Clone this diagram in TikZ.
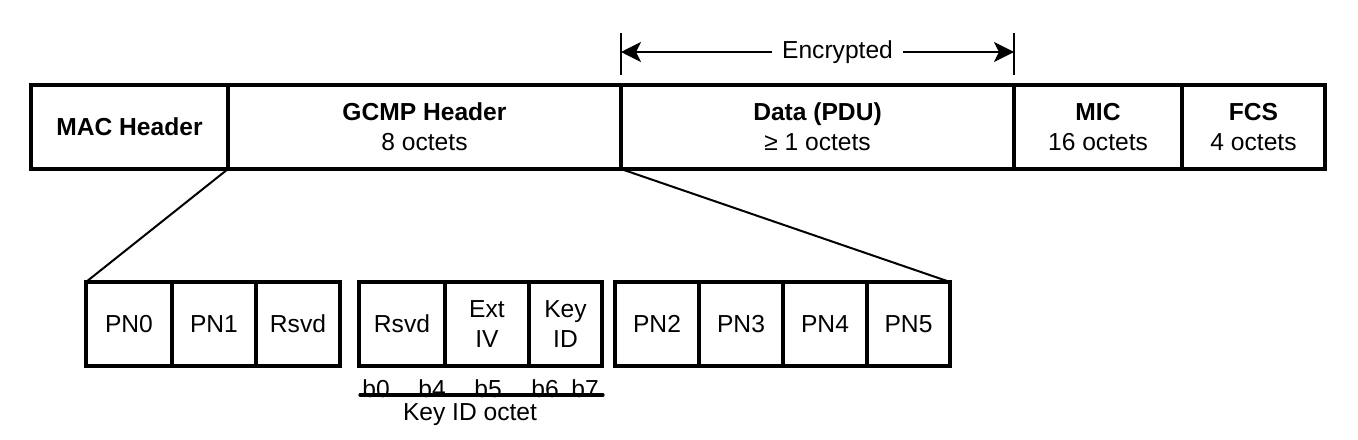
\documentclass[tikz,border=0pt]{standalone}
\usepackage{fontspec}
\setmainfont{Liberation Sans}
\usetikzlibrary{arrows.meta}
\tikzset{
  field/.style={draw, line width=1.6pt, minimum height=42pt, inner sep=0pt, outer sep=0pt, align=center},
  link/.style={line width=1pt},
  bit/.style={anchor=base, inner sep=0pt},
}

\begin{document}
\begin{tikzpicture}[x=0.5pt, y=-0.5pt, font=\fontsize{12.3}{15}\selectfont]
  \useasboundingbox (0,0) rectangle (1358,439);

  % Frame fields
  \node[field, minimum width=98.5pt] (mac) at (129.5,127) {\textbf{MAC Header}};
  \node[field, minimum width=196.5pt] (gcmp) at (424.5,127) {\textbf{GCMP Header}\\8 octets};
  \node[field, minimum width=196.5pt] (data) at (817.5,127) {\textbf{Data (PDU)}\\≥ 1 octets};
  \node[field, minimum width=84pt] (mic) at (1098,127) {\textbf{MIC}\\16 octets};
  \node[field, minimum width=71.5pt] (fcs) at (1253.5,127) {\textbf{FCS}\\4 octets};

  % Encrypted span
  \coordinate (encL) at (621,52);
  \coordinate (encR) at (1014,52);
  \node[inner xsep=5pt, inner ysep=0pt] (enc) at (837.5,52) {Encrypted};
  \draw[link, -{Stealth[length=10pt,width=10pt,inset=2.5pt]}] (enc.west) -- (encL);
  \draw[link, -{Stealth[length=10pt,width=10pt,inset=2.5pt]}] (enc.east) -- (encR);
  \draw[line width=1.3pt] (encL) ++(0,-19) -- ++(0,42);
  \draw[line width=1.3pt] (encR) ++(0,-19) -- ++(0,42);

  % GCMP header octets
  \node[field, minimum width=43pt] (pn0) at (129,324) {PN0};
  \node[field, minimum width=42pt] (pn1) at (214,324) {PN1};
  \node[field, minimum width=42pt] (rsvdA) at (298,324) {Rsvd};
  \node[field, minimum width=43pt] (rsvdB) at (402,324) {Rsvd};
  \node[field, minimum width=42pt] (extiv) at (487,324) {Ext\\IV};
  \node[field, minimum width=36.5pt] (keyid) at (565.5,324) {Key\\ID};
  \node[field, minimum width=42pt] (pn2) at (657,324) {PN2};
  \node[field, minimum width=42pt] (pn3) at (741,324) {PN3};
  \node[field, minimum width=42pt] (pn4) at (825,324) {PN4};
  \node[field, minimum width=41.5pt] (pn5) at (908.5,324) {PN5};

  % Expansion lines
  \draw[link] (gcmp.south west) -- (pn0.north west);
  \draw[link] (gcmp.south east) -- (pn5.north east);

  % Key ID octet bits
  \node[bit] (b0) at (376,397) {b0};
  \node[bit] (b4) at (432,397) {b4};
  \node[bit] (b5) at (488,397) {b5};
  \node[bit] (b6) at (545,397) {b6};
  \node[bit] (b7) at (585,397) {b7};
  \coordinate (octL) at (360,395);
  \coordinate (octR) at (603,395);
  \draw[line width=1.6pt, line cap=round] (octL) -- (octR);
  \node[bit] (octet) at (470,420) {Key ID octet};
\end{tikzpicture}
\end{document}
